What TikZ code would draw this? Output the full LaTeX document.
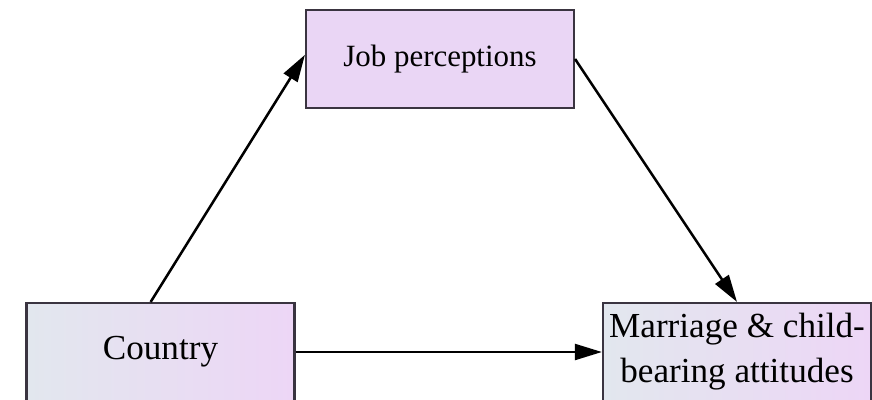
\documentclass[tikz,border=0pt]{standalone}
\usepackage{fontspec}
\setmainfont{Liberation Serif}
\usetikzlibrary{arrows.meta}
\definecolor{boxedge}{RGB}{58,52,64}
\definecolor{boxleft}{RGB}{226,231,238}
\definecolor{boxright}{RGB}{237,214,246}
\definecolor{boxlav}{RGB}{234,214,245}
\begin{document}
\begin{tikzpicture}[
    varbox/.style={draw=boxedge, line width=1.5pt, minimum width=6.7cm, minimum height=2.45cm,
        left color=boxleft, right color=boxright, align=center, inner sep=0pt},
    path/.style={line width=1.8pt, -{Triangle[length=0.68cm,width=0.4cm]}}
  ]
    \useasboundingbox (0,0) rectangle (21.8,9.975);

    \node[varbox, left color=boxlav, right color=boxlav, font=\fontsize{22}{28}\selectfont]  (job) at (11.0,8.5) {Job perceptions};
    \node[varbox, font=\fontsize{25}{32}\selectfont] (country) at (4.0125,1.175) {Country};
    \node[varbox, font=\fontsize{25}{32}\selectfont] (attitudes) at (18.425,1.175) {Marriage \& child-\\bearing attitudes};

    \draw[path] ([xshift=-7pt]country.north) -- ([yshift=3pt]job.west);
    \draw[path] (job.east) -- (attitudes.north);
    \draw[path] (country.east) -- (attitudes.west);
\end{tikzpicture}
\end{document}
